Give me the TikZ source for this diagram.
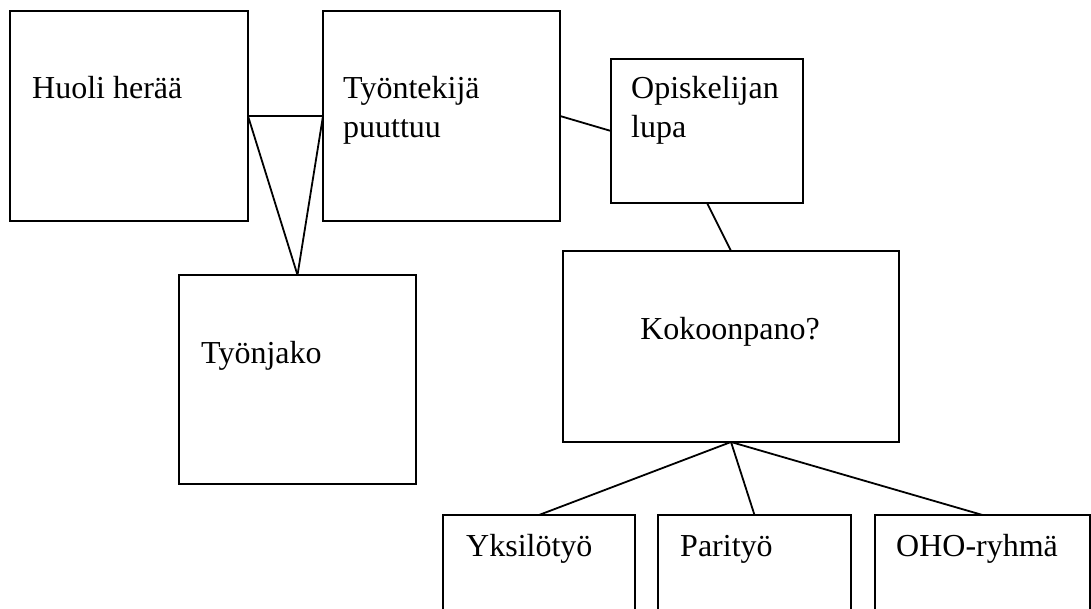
\documentclass[tikz,border=0pt]{standalone}
\usepackage{fontspec}
\setmainfont{Liberation Serif}
\usetikzlibrary{positioning}
\tikzset{
  box/.style={draw, line width=1.8pt, rectangle, anchor=north west,
    inner sep=0pt, outer sep=0pt},
  lbl/.style={anchor=base west, inner sep=0pt, align=left,
    font=\fontsize{32}{39}\selectfont},
  link/.style={line width=1.8pt},
}
\begin{document}
\begin{tikzpicture}[x=1pt,y=-1pt]
      \useasboundingbox (0,0) rectangle (1091,609);
      \clip (0,0) rectangle (1091,609);
      % boxes
      \node[box, minimum width=238pt, minimum height=210pt] (huoli) at (10,11) {};
      \node[box, minimum width=237pt, minimum height=210pt] (tyon) at (323,11) {};
      \node[box, minimum width=192pt, minimum height=144pt] (lupa) at (611,59) {};
      \node[box, minimum width=237pt, minimum height=209pt] (jako) at (179,275) {};
      \node[box, minimum width=336pt, minimum height=191pt] (koko) at (563,251) {};
      \node[box, minimum width=192pt, minimum height=150pt] (yksi) at (443,515) {};
      \node[box, minimum width=193pt, minimum height=150pt] (pari) at (658,515) {};
      \node[box, minimum width=215pt, minimum height=150pt] (oho) at (875,515) {};
      % texts (base of a two-line label is its last line)
      \node[lbl] (huoliT) at ([xshift=22pt,yshift=-88pt]huoli.north west) {Huoli herää};
      \node[lbl] (tyonT) at ([xshift=20pt,yshift=-127pt]tyon.north west) {Työntekijä\\puuttuu};
      \node[lbl] (lupaT) at ([xshift=20pt,yshift=-79pt]lupa.north west) {Opiskelijan\\lupa};
      \node[lbl] (jakoT) at ([xshift=22pt,yshift=-88pt]jako.north west) {Työnjako};
      \node[lbl, anchor=base] (kokoT) at ([xshift=-1pt,yshift=-88pt]koko.north) {Kokoonpano?};
      \node[lbl] (yksiT) at ([xshift=23pt,yshift=-41pt]yksi.north west) {Yksilötyö};
      \node[lbl] (pariT) at ([xshift=22pt,yshift=-41pt]pari.north west) {Parityö};
      \node[lbl] (ohoT) at ([xshift=21pt,yshift=-41pt]oho.north west) {OHO-ryhmä};
      \begin{scope}[link]
        \draw (huoli.east) to (tyon.west);
        \draw (huoli.east) to (jako.north);
        \draw (tyon.west) to (jako.north);
        \draw (tyon.east) to (lupa.west);
        \draw (lupa.south) to (koko.north);
        \draw (koko.south) to (yksi.north);
        \draw (koko.south) to (pari.north);
        \draw (koko.south) to (oho.north);
      \end{scope}
    \end{tikzpicture}
\end{document}
